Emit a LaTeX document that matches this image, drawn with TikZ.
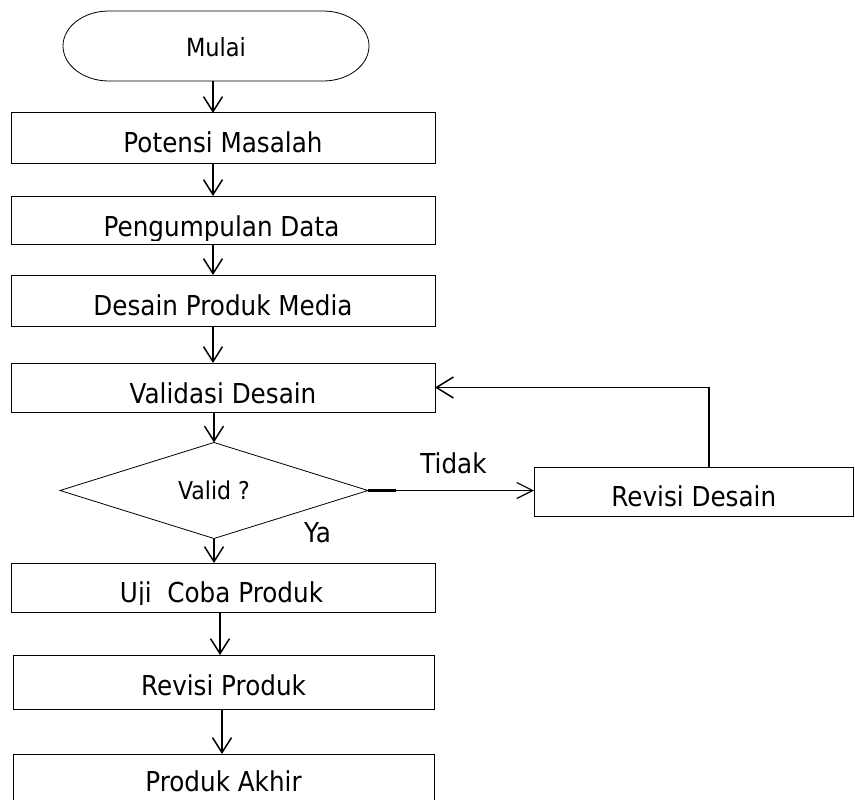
\documentclass[tikz,border=0pt]{standalone}
\usepackage{fontspec}
\setmainfont{DejaVu Sans}[FakeStretch=0.9]
\usetikzlibrary{arrows.meta,shapes.geometric}
\begin{document}
\begin{tikzpicture}[x=1pt,y=-1pt,
  txt/.style={font=\fontsize{27.4}{30}\selectfont,inner sep=0pt,outer sep=0pt},
  box/.style={txt,draw=black,line width=1pt,rectangle},
  arr/.style={line width=1.5pt,-{Straight Barb[length=15pt,width=19pt]}},
  thinarr/.style={line width=1.2pt,-{Straight Barb[length=16pt,width=16pt]}},
  backarr/.style={line width=1.5pt,-{Straight Barb[length=17pt,width=21pt]}}]
\useasboundingbox (0,0) rectangle (855,800);

% terminator with elliptical ends
\node[txt,minimum width=306pt,text height=46pt,text depth=24pt,
  font=\fontsize{25}{28}\selectfont] (mulai) at (216,46) {Mulai};
\draw[line width=0.8pt] ([xshift=46pt]mulai.north west) -- ([xshift=-46pt]mulai.north east)
  arc[start angle=90,end angle=-90,x radius=46pt,y radius=35pt]
  -- ([xshift=46pt]mulai.south west)
  arc[start angle=270,end angle=90,x radius=46pt,y radius=35pt] -- cycle;

% process boxes
\node[box,minimum width=424pt,text height=39pt,text depth=11pt] (pm) at (223,138) {Potensi Masalah};
\node[box,minimum width=424pt,minimum height=48pt] (pd) at (223,220) {};
\begin{scope}
  \clip (11,196) rectangle (435,240);
  \node[txt,anchor=base] (pdt) at (221.5,236) {Pengumpulan Data};
\end{scope}
\node[box,minimum width=424pt,text height=40pt,text depth=11pt] (dp) at (223,300.5) {Desain Produk Media};
\node[box,minimum width=424pt,text height=40pt,text depth=9pt] (vd) at (223,387.5) {Validasi Desain};

% decision
\node[diamond,draw=black,line width=0.8pt,aspect=3.2,minimum width=308pt,minimum height=96pt,
  inner sep=0pt,outer sep=0pt,font=\fontsize{24.5}{28}\selectfont] (dia) at (214,490.5) {Valid ?};

\node[box,minimum width=319.5pt,text height=39pt,text depth=10pt] (rd) at (693.75,491.5) {Revisi Desain};

\node[box,minimum width=424pt,minimum height=49pt] (uji) at (223,587.5) {};
\begin{scope}
  \clip (11,563) rectangle (435,604.5);
  \node[txt,anchor=base] (ujit) at (221.5,602) {Uji~ Coba Produk};
\end{scope}
\node[box,minimum width=421pt,text height=40pt,text depth=14pt] (rp) at (223.5,682) {Revisi Produk};
\node[box,minimum width=421pt,text height=37pt,text depth=12pt] (pa) at (223.5,778.5) {Produk Akhir};

% branch labels
\node[txt,anchor=base] (tidak) at (453.5,473) {Tidak};
\node[txt,anchor=base] (ya) at (317.5,542) {Ya};

% flow
\draw[arr] ([xshift=-3pt]mulai.south) -- ([xshift=-10pt]pm.north);
\draw[arr] ([xshift=-10pt]pm.south) -- ([xshift=-10pt]pd.north);
\draw[arr] ([xshift=-10pt]pd.south) -- ([xshift=-10pt]dp.north);
\draw[arr] ([xshift=-10pt]dp.south) -- ([xshift=-10pt]vd.north);
\draw[arr] ([xshift=-9pt]vd.south) -- (dia.north);
\draw[arr] (dia.south) -- (dia.south |- uji.north);
\draw[arr] ([xshift=-3pt]uji.south) -- ([xshift=-3.5pt]rp.north);
\draw[arr] ([xshift=-1.5pt]rp.south) -- ([xshift=-1.5pt]pa.north);
\draw[thinarr] (dia.east) -- (dia.east -| rd.west);
\draw[line width=2.6pt] (dia.east) -- ++(28,0);
\draw[backarr] ([xshift=15.25pt]rd.north) |- (vd.east);
\end{tikzpicture}
\end{document}
